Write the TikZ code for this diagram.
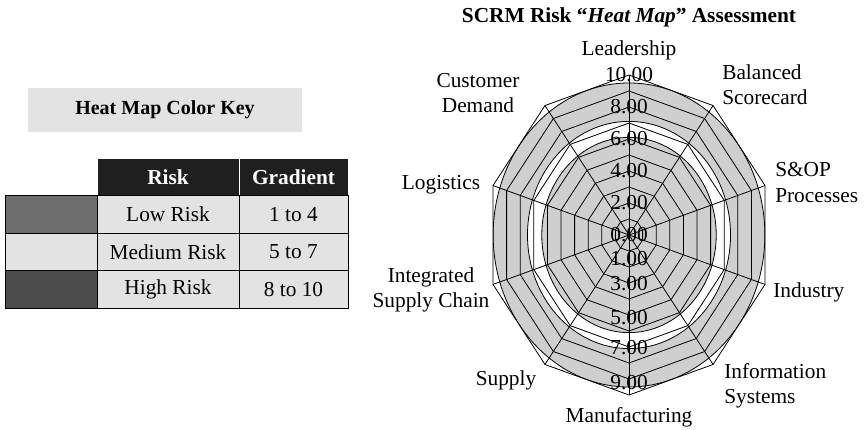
\documentclass[tikz,border=0pt]{standalone}
\usepackage{fontspec}
\setmainfont{Liberation Serif}
\colorlet{keygray}{black!11}
\colorlet{webgray}{black!19}
\colorlet{lowgray}{black!57}
\colorlet{highgray}{black!70}
\tikzset{
    lbl/.style={inner sep=0pt,font=\fontsize{16}{18.8}\selectfont},
    cell/.style={draw,fill=keygray,inner sep=0pt,minimum height=28.125pt,font=\fontsize{16}{18.8}\selectfont},
    head/.style={draw=white,fill=black!88,text=white,inner sep=0pt,minimum height=28.125pt,font=\fontsize{16}{18.8}\selectfont\bfseries},
    ring/.style={line width=0.6pt}
}
\begin{document}
\begin{tikzpicture}[x=0.75pt,y=-0.75pt]
\useasboundingbox (0,0) rectangle (864,429);
% color key
\node [fill=keygray,minimum width=205.5pt,minimum height=33pt,font=\fontsize{15}{18}\selectfont\bfseries] (keytitle) at (165,110) {Heat Map Color Key};
\node [head,minimum width=106.5pt] (riskh) at (168,176.75) {Risk};
\node [head,minimum width=81.75pt] (gradh) at (293.5,176.75) {Gradient};
\foreach \y/\sw/\risk/\grad [count=\i] in {214.5/lowgray/Low Risk/1 to 4,252/keygray/Medium Risk/5 to 7,289.5/highgray/High Risk/8 to 10} {
    \node [cell,fill=\sw,minimum width=69pt] (sw\i) at (51,\y) {};
    \node [cell,minimum width=106.5pt] (risk\i) at (168,\y) {\risk};
    \node [cell,minimum width=81.75pt] (grad\i) at (293.5,\y) {\grad};
}
% radar
\node [lbl,font=\fontsize{16}{18.8}\selectfont\bfseries] (title) at (629,17) {SCRM Risk “\textit{Heat Map}” Assessment};
\begin{scope}[shift={(629,235)},x=10.725pt,y=12pt]
    \begin{scope}
        \clip (90:10) \foreach \a in {1,...,9} {-- (90-36*\a:10)} -- cycle;
        \fill [webgray] (0,0) circle (9.5);
        \fill [white] (0,0) circle (7.1);
        \fill [webgray] (0,0) circle (6.1);
        \foreach \r in {6.1,7.1,9.5}
            \draw [ring] (0,0) circle (\r);
    \end{scope}
    \foreach \r in {1,...,10}
        \draw [ring] (90:\r) \foreach \a in {1,...,9} {-- (90-36*\a:\r)} -- cycle;
    \foreach \a in {0,...,9}
        \draw [ring] (0,0) -- (90-36*\a:10);
    \foreach \v in {0,2,...,10}
        \node [lbl] (up\v) at (0,\v) {\v.00};
    \foreach \v/\p in {1/1.45,3/3.05,5/5.15,7/7.05,9/9.25}
        \node [lbl] (dn\v) at (0,-\p) {\v.00};
\end{scope}
\node [lbl] (lead) at (629,50) {Leadership};
\node [lbl,align=left,anchor=west] (bsc) at (722,84.5) {Balanced\\Scorecard};
\node [lbl,align=left,anchor=west] (sop) at (775,182.5) {S\&OP\\Processes};
\node [lbl,anchor=west] (ind) at (773,292) {Industry};
\node [lbl,align=left,anchor=west] (infs) at (724,385.5) {Information\\Systems};
\node [lbl] (manu) at (629,417) {Manufacturing};
\node [lbl] (supp) at (506,380) {Supply};
\node [lbl,align=center] (isc) at (431,290) {Integrated\\Supply Chain};
\node [lbl] (logi) at (441,185) {Logistics};
\node [lbl,align=center] (cdem) at (478,93.5) {Customer\\Demand};
\end{tikzpicture}
\end{document}
